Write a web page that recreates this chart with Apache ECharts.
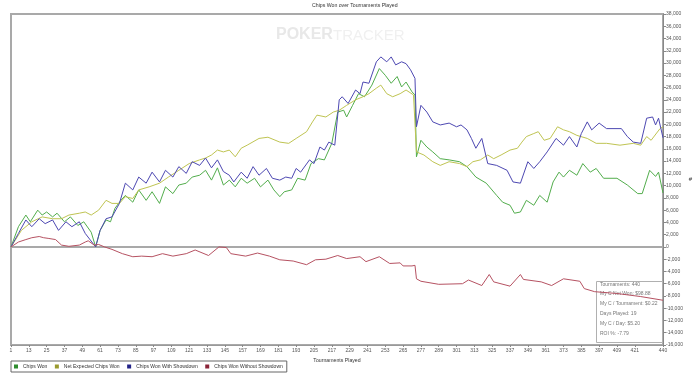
<!DOCTYPE html>
<html><head><meta charset="utf-8">
<script src="https://cdn.jsdelivr.net/npm/echarts@6/dist/echarts.min.js"></script>
<style>html,body{margin:0;padding:0;background:#fff}#c{width:700px;height:380px}</style>
</head><body><div id="c"></div>
<script>
const xTicks = [1,13,25,37,49,61,73,85,97,109,121,133,145,157,169,181,193,205,217,229,241,253,265,277,289,301,313,325,337,349,361,373,385,397,409,421,440];
const seriesNames = ['Chips Won','Net Expected Chips Won','Chips Won With Showdown','Chips Won Without Showdown'];

// [tournament, chips]
const chipsWon = [[1,0],[6,3300],[11,5200],[14,4100],[19,6000],[22,5200],[25,5700],[29,4900],[32,5500],[37,4100],[41,4900],[46,3500],[50,4100],[55,2400],[58,0],[61,2700],[65,4400],[68,4100],[71,6300],[75,7600],[78,8400],[83,7300],[87,9300],[92,7600],[96,9000],[101,7100],[105,9800],[110,8700],[114,10100],[119,10400],[123,11400],[128,11700],[132,12500],[136,10900],[140,12900],[144,10100],[148,10900],[152,9800],[156,11200],[160,10400],[165,11200],[169,9800],[174,10900],[178,9300],[182,8200],[185,9000],[190,9300],[194,11200],[199,10900],[203,13600],[208,14400],[212,14200],[217,16900],[221,22000],[225,22300],[227,21200],[231,23100],[235,25000],[239,24500],[244,26400],[249,29100],[253,28000],[257,26700],[261,27800],[264,26100],[267,26900],[271,25300],[273,24800],[274,14700],[277,17400],[281,16300],[285,15500],[290,14400],[296,14200],[303,13900],[308,13100],[314,11400],[321,10400],[328,8400],[332,7300],[337,6800],[340,5500],[344,5700],[348,7600],[353,6800],[357,8400],[362,7300],[366,10600],[370,12200],[373,11400],[377,12500],[382,11700],[386,13600],[391,12200],[395,12800],[400,11200],[409,11200],[416,10100],[423,8700],[426,8700],[431,12500],[435,11500],[437,12200],[440,8800]];

const netExpected = [[1,0],[8,2700],[15,4100],[22,4900],[29,4600],[35,4600],[40,5200],[47,5500],[51,5700],[55,5200],[60,6000],[65,7600],[69,7100],[74,7100],[78,8200],[83,7900],[87,9300],[94,9800],[101,10400],[107,11400],[114,12500],[121,13600],[128,14200],[132,14500],[136,15000],[140,15800],[144,15500],[148,15800],[152,14700],[156,16100],[160,16600],[168,17700],[174,17900],[182,17100],[188,16900],[193,17700],[200,18800],[204,20400],[207,21500],[213,21200],[218,22000],[222,22300],[227,23100],[233,24000],[238,24500],[242,25000],[247,25900],[250,26400],[254,25000],[258,24500],[263,25000],[267,25600],[272,24800],[274,15500],[279,15000],[285,13900],[290,13300],[296,13900],[303,13600],[308,13100],[312,13900],[317,14200],[322,15000],[326,14400],[331,15000],[337,15800],[342,16100],[345,17100],[348,18000],[353,18500],[356,18800],[360,17400],[364,17700],[369,19600],[373,19100],[377,18800],[382,18200],[389,17700],[395,16900],[402,16900],[411,16600],[420,16900],[425,16600],[429,18000],[432,17400],[438,19300],[440,19600]];

const withShowdown = [[1,0],[6,2200],[11,4400],[15,3300],[20,4600],[24,3800],[29,4400],[33,2700],[38,4100],[42,3300],[47,4100],[51,2200],[58,0],[61,2700],[65,4600],[69,4900],[74,7100],[78,10400],[83,9300],[87,11400],[92,10400],[96,12200],[101,10600],[105,12500],[110,11400],[114,13100],[119,12000],[123,13900],[128,13300],[132,14500],[136,12900],[140,14200],[144,12300],[148,11700],[151,10600],[156,12200],[160,11200],[164,13100],[168,11700],[173,12800],[177,11200],[182,10900],[186,11400],[190,11200],[193,12800],[196,12200],[202,14200],[205,13600],[209,16300],[212,15800],[215,17100],[219,16600],[222,24000],[224,24500],[228,23400],[233,25600],[236,25000],[238,26900],[242,26700],[247,30200],[250,31000],[254,30200],[257,31000],[260,29700],[264,30200],[267,29900],[270,28900],[273,27500],[274,19600],[277,23100],[281,22000],[285,20400],[290,19900],[296,20200],[301,19600],[304,19900],[308,19100],[311,17700],[314,16100],[318,17700],[322,13600],[328,13300],[335,12500],[339,10600],[344,10400],[349,13900],[353,12800],[357,13900],[362,15500],[368,17700],[373,16600],[377,18000],[382,16300],[385,18500],[389,20400],[392,19100],[397,20200],[402,19300],[412,19300],[416,18000],[420,17100],[425,16900],[429,21000],[433,21200],[435,19900],[437,21000],[440,17800]];

const withoutShowdown = [[1,0],[6,800],[11,1200],[15,1500],[20,1700],[23,1500],[26,1400],[31,1200],[35,300],[40,100],[47,300],[51,800],[53,1000],[57,300],[60,400],[64,0],[69,-400],[76,-1100],[83,-1600],[89,-1500],[96,-1600],[103,-1100],[110,-1500],[119,-1100],[125,-500],[134,-1400],[141,0],[146,-100],[149,-1100],[159,-1500],[167,-1000],[175,-1500],[182,-2100],[191,-2300],[200,-2900],[206,-2100],[213,-2000],[221,-1400],[227,-1900],[236,-1600],[240,-2400],[249,-1600],[256,-2700],[263,-2600],[265,-3100],[271,-3100],[273,-3000],[274,-5200],[277,-5600],[289,-6100],[305,-6000],[309,-5400],[318,-6300],[323,-4500],[326,-5700],[337,-6400],[344,-4500],[346,-5300],[358,-5700],[365,-6300],[373,-5200],[384,-5600],[387,-6800],[394,-7300],[409,-7600],[425,-8100],[440,-8700]];

const infoLines = ['Tournaments: 440','My C Net Won: $98.88','My C / Tournament: $0.22','Days Played: 19','My C / Day: $5.20','ROI %: -7.79'];

const FONT = '"Liberation Sans", Arial, sans-serif';
const lineColors = ['#52ad4c','#bfc452','#4d48b2','#b65262'];
const legendColors = ['#2f8d2f','#9a9a2e','#222288','#8a2438'];
const allData = [chipsWon, netExpected, withShowdown, withoutShowdown];

const chart = echarts.init(document.getElementById('c'), null, {renderer:'canvas'});
const option = {
  animation: false,
  backgroundColor: '#fff',
  textStyle: {fontFamily: FONT},
  title: [{
    text: 'Chips Won over Tournaments Played', left: 312, top: 3, padding: 0,
    textStyle: {fontSize: 5.2, fontWeight: 'normal', color: '#333', fontFamily: FONT}
  }],
  graphic: [
    {type:'text', left: 276, top: 27, z: 0, silent: true,
     style:{text:'POKER', font:'bold 16px "Liberation Sans", Arial', fill:'#e8e8e8'}},
    {type:'text', left: 333, top: 28, z: 0, silent: true,
     style:{text:'TRACKER', font:'15px "Liberation Sans", Arial', fill:'#f0f0f0'}},
    {type:'rect', z: 0, silent: true, shape:{x:596.5, y:281.5, width:66, height:61},
     style:{fill:'#fff', stroke:'#b0b0b0', lineWidth:1}},
    {type:'text', z: 1, silent: true, x: 600, y: 279.3,
     style:{text: infoLines.join('\n'), font:'5px "Liberation Sans", Arial', fill:'#777', lineHeight: 9.8, verticalAlign:'top'}}
  ],
  legend: {
    left: 11, top: 361, orient: 'horizontal',
    icon: 'rect', itemWidth: 4, itemHeight: 4, itemGap: 7.5,
    padding: [3, 4, 3, 3], borderColor: '#666', borderWidth: 1,
    textStyle: {fontSize: 5, color: '#333', fontFamily: FONT},
    data: seriesNames.map((n, i) => ({name: n, itemStyle: {color: legendColors[i]}}))
  },
  grid: {left: 11, right: 37, top: 14, bottom: 35, show: true, borderColor: '#a9a9a9', borderWidth: 2, containLabel: false},
  xAxis: {
    type: 'value', min: 1, max: 440,
    name: 'Tournaments Played', nameLocation: 'middle', nameGap: 9,
    nameTextStyle: {fontSize: 5.2, color: '#333', fontFamily: FONT},
    axisLine: {show: true, onZero: false, lineStyle: {color: '#999', width: 1}},
    axisTick: {show: true, customValues: xTicks, length: 2, lineStyle: {color: '#888'}},
    axisLabel: {customValues: xTicks, fontSize: 5, color: '#555', margin: 3, fontFamily: FONT},
    splitLine: {show: false}
  },
  yAxis: {
    type: 'value', position: 'right', min: -16000, max: 38000, interval: 2000,
    name: '#', nameLocation: 'middle', nameGap: 25, nameRotate: 0,
    nameTextStyle: {fontSize: 6, color: '#333', fontFamily: FONT},
    axisLine: {show: true, lineStyle: {color: '#888', width: 1}},
    axisTick: {show: true, length: 3, lineStyle: {color: '#888'}},
    axisLabel: {fontSize: 5, color: '#555', margin: 3, fontFamily: FONT,
      formatter: v => v.toLocaleString('en-US')},
    splitLine: {show: false}
  },
  series: seriesNames.map((n, i) => ({
    name: n, type: 'line', data: allData[i], showSymbol: false, symbol: 'none',
    lineStyle: {width: 1, color: lineColors[i]}, itemStyle: {color: lineColors[i]},
    z: 3,
    markLine: i === 0 ? {silent: true, symbol: 'none', label: {show: false},
      lineStyle: {color: '#a9a9a9', width: 2, type: 'solid'}, data: [{yAxis: 0}], z: 1} : undefined
  }))
};
chart.setOption(option);
</script></body></html>
